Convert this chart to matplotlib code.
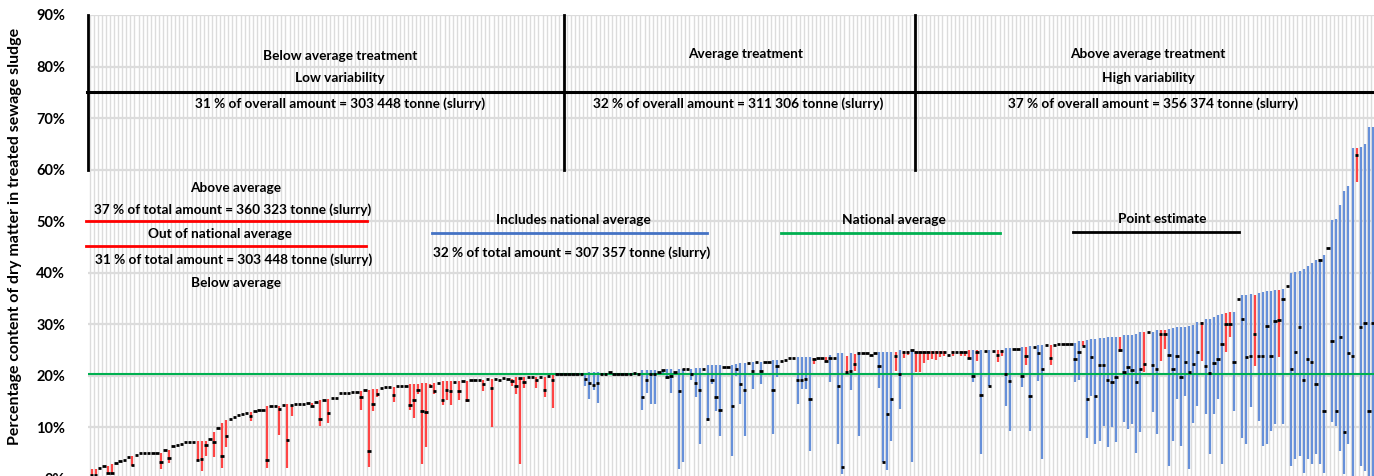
import numpy as np
import matplotlib.pyplot as plt

plt.rcParams['font.family'] = ['Lato', 'DejaVu Sans']

# dry matter (%) per treatment plant, sorted by upper bound
upper = [
    1.9, 1.9, 2.0, 2.4, 2.5, 2.8, 3.0, 3.4, 3.6, 4.3,
    4.5, 4.7, 5.0, 5.0, 5.0, 5.0, 5.0, 5.0, 5.5, 5.5,
    6.4, 6.5, 6.7, 7.1, 7.1, 7.1, 7.4, 7.4, 7.4, 7.7,
    9.1, 9.9, 10.8, 11.5, 11.7, 12.0, 12.4, 12.6, 12.8, 13.0,
    13.1, 13.4, 13.4, 14.2, 14.2, 14.2, 14.2, 14.3, 14.5, 14.3,
    14.6, 14.6, 14.6, 14.8, 14.8, 14.9, 15.2, 15.2, 15.5, 15.7,
    15.7, 16.6, 16.7, 16.7, 16.8, 16.9, 17.0, 17.2, 17.2, 17.4,
    17.4, 17.7, 17.9, 17.9, 17.9, 18.1, 18.1, 18.1, 18.4, 18.4,
    18.4, 18.5, 18.5, 18.4, 18.6, 18.6, 18.9, 18.9, 18.9, 18.7,
    18.9, 18.9, 18.9, 19.1, 19.2, 19.2, 19.2, 19.4, 19.4, 19.4,
    19.2, 19.6, 19.4, 19.4, 19.7, 19.6, 19.7, 19.8, 19.8, 19.7,
    19.8, 19.8, 20.0, 20.2, 20.4, 20.4, 20.4, 20.4, 20.4, 20.4,
    20.4, 20.6, 20.8, 20.8, 20.8, 20.4, 20.4, 20.7, 20.4, 20.4,
    20.4, 20.4, 20.4, 20.6, 20.4, 21.1, 21.1, 21.1, 21.1, 20.8,
    21.1, 21.3, 21.3, 20.8, 21.3, 21.3, 21.3, 21.3, 21.5, 21.5,
    21.4, 22.0, 22.0, 22.0, 22.0, 21.6, 21.6, 22.1, 22.3, 22.4,
    22.4, 22.4, 22.6, 22.6, 22.7, 22.7, 22.7, 23.1, 23.1, 22.9,
    23.1, 23.4, 23.4, 23.6, 23.7, 23.7, 23.6, 23.5, 23.5, 23.5,
    23.7, 24.0, 23.5, 24.4, 24.4, 23.9, 24.4, 24.2, 24.6, 24.4,
    24.4, 24.1, 24.4, 24.7, 24.7, 24.7, 24.7, 24.6, 24.9, 24.8,
    24.8, 24.9, 24.8, 24.8, 24.8, 24.8, 24.8, 24.8, 24.8, 24.8,
    24.1, 24.8, 24.6, 24.8, 24.8, 24.9, 25.0, 24.9, 25.0, 24.8,
    25.0, 24.8, 24.9, 25.0, 25.3, 25.3, 25.1, 25.1, 25.5, 25.5,
    25.7, 25.5, 25.9, 26.0, 26.0, 26.0, 26.0, 26.2, 26.2, 26.2,
    26.2, 26.3, 26.8, 26.8, 27.0, 27.1, 27.1, 27.3, 27.3, 27.5,
    27.5, 27.6, 27.6, 27.9, 27.9, 27.9, 28.1, 28.4, 28.4, 28.4,
    28.4, 28.8, 28.8, 28.8, 29.1, 29.3, 29.4, 29.5, 29.5, 29.7,
    29.9, 30.4, 30.4, 31.0, 31.0, 31.4, 31.7, 32.0, 32.1, 32.3,
    32.3, 34.9, 35.6, 35.6, 35.8, 35.6, 36.0, 36.2, 36.4, 36.4,
    36.7, 36.7, 36.9, 37.5, 39.9, 40.1, 40.4, 40.8, 41.3, 41.9,
    42.5, 42.6, 43.5, 44.8, 50.2, 50.5, 53.1, 55.8, 56.8, 64.2,
    64.2, 64.4, 64.9, 68.3, 68.3,
]
lower = [
    0.7, 0.7, 2.0, 2.4, 1.2, 1.2, 3.0, 3.4, 3.6, 4.3,
    2.5, 4.7, 5.0, 5.0, 5.0, 5.0, 5.0, 1.9, 5.5, 3.0,
    6.4, 6.5, 6.7, 7.1, 7.1, 7.1, 3.5, 1.6, 4.5, 7.7,
    4.3, 9.9, 2.1, 6.1, 11.7, 12.0, 12.4, 12.6, 12.8, 11.3,
    13.1, 13.4, 13.4, 2.0, 14.2, 14.2, 8.5, 14.3, 2.0, 12.2,
    14.6, 14.6, 14.6, 14.8, 14.0, 14.9, 10.3, 15.2, 10.8, 15.7,
    15.7, 16.6, 16.7, 16.7, 16.8, 16.9, 13.4, 17.2, 2.2, 13.2,
    15.8, 17.7, 17.9, 17.9, 15.0, 18.1, 18.1, 18.1, 13.3, 11.8,
    16.5, 2.9, 6.1, 17.6, 16.5, 18.6, 14.4, 15.2, 14.4, 18.7,
    15.2, 18.9, 15.0, 19.1, 19.2, 19.2, 17.1, 19.4, 10.1, 19.4,
    19.2, 19.6, 19.4, 18.1, 16.5, 2.9, 17.6, 19.8, 19.8, 17.7,
    19.8, 15.8, 20.0, 13.8, 20.4, 20.4, 20.4, 20.4, 20.4, 20.4,
    20.4, 18.1, 15.5, 17.2, 14.8, 20.4, 20.4, 20.7, 20.4, 20.4,
    20.4, 20.4, 20.4, 20.1, 20.4, 13.3, 16.7, 14.5, 14.6, 20.8,
    20.1, 19.4, 16.6, 20.8, 1.9, 3.2, 21.3, 19.2, 15.9, 6.7,
    21.4, 11.3, 18.4, 13.2, 8.4, 21.6, 21.6, 4.5, 20.0, 14.5,
    8.4, 22.4, 17.4, 22.6, 18.4, 22.7, 22.7, 8.7, 19.7, 22.9,
    23.1, 23.4, 23.4, 14.5, 17.4, 17.4, 5.4, 22.3, 23.5, 23.5,
    22.6, 18.7, 23.5, 6.7, 1.0, 20.7, 17.2, 21.0, 8.4, 24.4,
    24.4, 24.1, 24.4, 17.6, 3.2, 1.7, 7.4, 20.9, 13.5, 23.5,
    24.1, 3.3, 20.7, 20.7, 22.4, 23.1, 23.3, 23.1, 23.6, 23.9,
    24.1, 23.9, 24.6, 23.9, 23.9, 23.3, 18.7, 22.9, 4.8, 24.8,
    18.1, 24.8, 22.6, 23.9, 14.2, 9.3, 25.1, 25.1, 17.8, 22.0,
    9.3, 25.5, 19.0, 3.8, 26.0, 22.0, 26.0, 26.2, 26.2, 26.2,
    26.2, 18.7, 19.1, 25.7, 8.0, 16.1, 6.7, 7.4, 10.3, 6.1,
    10.0, 7.1, 24.6, 11.0, 9.7, 10.6, 5.1, 9.0, 20.8, 28.4,
    12.9, 8.7, 22.9, 25.2, 2.5, 7.4, 15.5, 6.4, 16.1, 1.9,
    10.8, 14.2, 22.9, 12.6, 4.8, 12.6, 15.5, 2.9, 24.6, 27.5,
    13.2, 34.9, 8.0, 6.7, 13.9, 21.9, 11.3, 6.4, 6.7, 9.3,
    10.6, 23.6, 10.6, 37.5, 2.5, 3.8, 4.5, 1.2, 3.8, 2.9,
    4.8, 2.9, 1.2, 44.8, 11.0, 10.3, 5.4, 0.9, 6.7, 0.6,
    57.6, 2.5, 1.6, 0.6, 0.5,
]
point = [
    0.7, 0.7, 2.0, 2.4, 1.2, 1.2, 3.0, 3.4, 3.6, 4.3,
    2.7, 4.7, 5.0, 5.0, 5.0, 5.0, 5.0, 3.2, 5.5, 4.0,
    6.4, 6.5, 6.7, 7.1, 7.1, 7.1, 3.6, 3.9, 6.5, 7.7,
    7.1, 9.9, 4.4, 8.4, 11.7, 12.0, 12.4, 12.6, 12.8, 12.2,
    13.1, 13.4, 13.4, 3.7, 14.2, 14.2, 13.5, 14.3, 7.5, 14.3,
    14.6, 14.6, 14.6, 14.8, 14.1, 14.9, 11.7, 15.2, 12.7, 15.7,
    15.7, 16.6, 16.7, 16.7, 16.8, 16.9, 15.8, 17.2, 5.3, 14.6,
    16.5, 17.7, 17.9, 17.9, 16.2, 18.1, 18.1, 18.1, 14.4, 15.2,
    17.3, 13.1, 12.9, 18.1, 17.1, 18.6, 15.3, 17.2, 17.0, 18.7,
    17.1, 18.9, 15.2, 19.1, 19.2, 19.2, 18.3, 19.4, 17.6, 19.4,
    19.2, 19.6, 19.4, 18.9, 18.0, 19.6, 18.7, 19.8, 19.8, 19.1,
    19.8, 17.2, 20.0, 19.1, 20.4, 20.4, 20.4, 20.4, 20.4, 20.4,
    20.4, 19.3, 18.5, 18.2, 18.5, 20.4, 20.4, 20.7, 20.4, 20.4,
    20.4, 20.4, 20.4, 20.5, 20.4, 15.8, 19.2, 20.4, 20.4, 20.8,
    21.1, 19.7, 20.0, 20.8, 17.0, 21.3, 21.3, 20.3, 18.5, 17.2,
    21.4, 11.6, 19.2, 15.8, 13.4, 21.6, 21.6, 14.2, 21.3, 18.4,
    17.2, 22.4, 20.9, 22.6, 21.0, 22.7, 22.7, 17.3, 21.8, 22.9,
    23.1, 23.4, 23.4, 19.2, 19.2, 19.4, 15.5, 23.3, 23.5, 23.5,
    22.8, 23.5, 23.5, 18.0, 2.3, 20.7, 21.0, 22.2, 24.4, 24.4,
    24.4, 24.1, 24.4, 21.8, 3.2, 12.6, 15.5, 23.9, 20.3, 24.6,
    24.6, 24.9, 24.6, 24.6, 24.6, 24.6, 24.6, 24.6, 24.6, 24.6,
    24.1, 24.6, 24.6, 24.6, 24.6, 23.5, 20.0, 24.7, 16.3, 24.8,
    18.1, 24.8, 24.0, 24.8, 20.3, 18.9, 25.1, 25.1, 20.0, 23.9,
    16.0, 25.5, 24.4, 21.3, 26.0, 23.5, 26.0, 26.2, 26.2, 26.2,
    26.2, 23.3, 24.6, 25.7, 15.5, 23.6, 16.0, 22.1, 22.1, 19.2,
    18.7, 19.8, 24.9, 20.7, 21.6, 21.1, 18.7, 21.4, 22.3, 28.4,
    22.1, 21.3, 28.1, 28.1, 24.1, 21.3, 23.9, 19.7, 22.7, 20.7,
    22.2, 24.7, 30.2, 21.8, 20.5, 22.4, 23.2, 26.2, 30.1, 30.1,
    22.7, 34.9, 31.0, 23.7, 23.9, 28.1, 23.9, 23.9, 29.7, 23.9,
    30.6, 30.8, 34.9, 37.5, 21.4, 24.6, 29.4, 19.1, 23.2, 22.6,
    18.4, 42.5, 13.1, 44.8, 26.8, 13.1, 27.6, 9.0, 24.4, 23.9,
    62.8, 29.4, 30.2, 13.1, 30.2,
]
national_average = 20.4

upper = np.array(upper)
lower = np.array(lower)
point = np.array(point)
n = len(upper)
x = np.arange(n)

RED = '#FF4545'
BLUE = '#6690DA'
GREEN = '#00B050'
GRID = '#DCDCDC'

fig = plt.figure(figsize=(13.74, 4.76), dpi=100)
ax = fig.add_axes([87.5 / 1374, -2.8 / 476, 1287.5 / 1374, 463.8 / 476])
ax.set_xlim(-1, n - 0.5)
ax.set_ylim(0, 90)

# category grid + horizontal grid
ax.vlines(np.arange(-0.5, n, 1), 0, 90, color=GRID, lw=1, zorder=0)
ax.set_yticks(np.arange(0, 91, 10))
ax.set_yticklabels([f'{v}%' for v in range(0, 91, 10)], fontsize=10.5, fontweight='bold')
ax.yaxis.grid(True, color=GRID, lw=1.6, zorder=0)
ax.set_axisbelow(True)
ax.set_xticks([])
ax.tick_params(axis='y', length=0, pad=16)
for s in ax.spines.values():
    s.set_visible(False)

# intervals: blue if they contain the national average, red otherwise
has_bar = (upper - lower) > 0.05
inside = (lower <= national_average) & (upper >= national_average)
cols = np.where(inside, BLUE, RED)
ax.vlines(x[has_bar], lower[has_bar], upper[has_bar], colors=cols[has_bar], lw=1.6, zorder=2)

ax.axhline(national_average, color=GREEN, lw=1.5, zorder=3)

# point estimates
ax.hlines(point, x - 0.42, x + 0.42, colors='black', lw=2.0, zorder=4)

# treatment blocks at the top
ax.plot([-1.2, n], [75, 75], color='black', lw=2.2, clip_on=False, zorder=5)
for xv in [-0.9, 115.8, 201.7]:
    ax.plot([xv, xv], [60, 90], color='black', lw=2, clip_on=False, zorder=5)

tkw = dict(ha='center', va='center', fontsize=9.8, fontweight='bold', zorder=6)
ax.text(60.9, 82.0, 'Below average treatment', **tkw)
ax.text(60.9, 77.8, 'Low variability', **tkw)
ax.text(60.9, 72.7, '31 % of overall amount = 303 448 tonne (slurry)', **tkw)
ax.text(160.3, 82.4, 'Average treatment', **tkw)
ax.text(158.4, 72.7, '32 % of overall amount = 311 306 tonne (slurry)', **tkw)
ax.text(258.9, 82.4, 'Above average treatment', **tkw)
ax.text(258.9, 77.8, 'High variability', **tkw)
ax.text(260.1, 72.7, '37 % of overall amount = 356 374 tonne (slurry)', **tkw)

# legend block
ax.text(35.4, 56.4, 'Above average', **tkw)
ax.text(34.5, 52.2, '37 % of total amount = 360 323 tonne (slurry)', **tkw)
ax.plot([-1.4, 67.5], [50.0, 50.0], color='red', lw=2, clip_on=False, zorder=5)
ax.text(31.5, 47.5, 'Out of national average', **tkw)
ax.plot([-1.4, 67.3], [45.2, 45.2], color='red', lw=2, clip_on=False, zorder=5)
ax.text(34.7, 42.6, '31 % of total amount = 303 448 tonne (slurry)', **tkw)
ax.text(35.4, 37.9, 'Below average', **tkw)

ax.text(118.0, 50.2, 'Includes national average', **tkw)
ax.plot([83.4, 150.8], [47.7, 47.7], color='#4472C4', lw=2, zorder=5)
ax.text(117.7, 43.8, '32 % of total amount = 307 357 tonne (slurry)', **tkw)

ax.text(196.6, 50.2, 'National average', **tkw)
ax.plot([168.9, 222.6], [47.7, 47.7], color=GREEN, lw=2, zorder=5)

ax.text(262.3, 50.4, 'Point estimate', **tkw)
ax.plot([240.5, 281.2], [47.8, 47.8], color='black', lw=2, zorder=5)

fig.text(0.011, 0.504, 'Percentage content of dry matter in treated sewage sludge',
         rotation=90, ha='center', va='center', fontsize=11.5, fontweight='bold')

fig.savefig('out.png', dpi=100)
